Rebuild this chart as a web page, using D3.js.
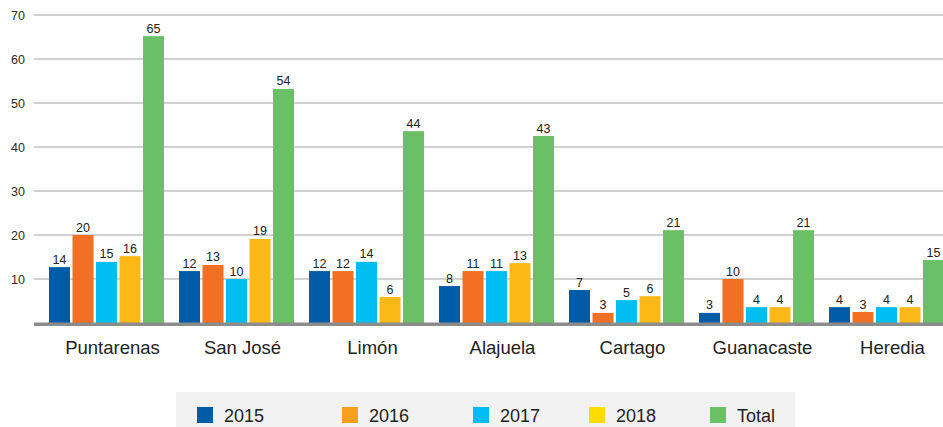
<!DOCTYPE html>
<html>
<head>
<meta charset="utf-8">
<script src="https://cdn.jsdelivr.net/npm/d3@7"></script>
<style>
  html, body { margin: 0; padding: 0; background: #ffffff; }
  svg { display: block; font-family: "Liberation Sans", Arial, sans-serif; }
</style>
</head>
<body>
<div id="chart"></div>
<script>
// ---- data ----
const categories = ["Puntarenas", "San José", "Limón", "Alajuela", "Cartago", "Guanacaste", "Heredia"];
const seriesNames = ["2015", "2016", "2017", "2018", "Total"];
// bar heights as drawn in the picture
const values2015 = [12.7, 11.8, 11.8, 8.4, 7.5, 2.3, 3.6];
const values2016 = [20.0, 13.2, 11.8, 11.8, 2.3, 10.0, 2.5];
const values2017 = [13.9, 10.0, 13.9, 11.8, 5.2, 3.6, 3.6];
const values2018 = [15.2, 19.1, 5.9, 13.6, 6.1, 3.6, 3.6];
const valuesTotal = [65.2, 53.2, 43.6, 42.5, 21.1, 21.1, 14.3];
// data labels printed above the bars
const labels2015 = [14, 12, 12, 8, 7, 3, 4];
const labels2016 = [20, 13, 12, 11, 3, 10, 3];
const labels2017 = [15, 10, 14, 11, 5, 4, 4];
const labels2018 = [16, 19, 6, 13, 6, 4, 4];
const labelsTotal = [65, 54, 44, 43, 21, 21, 15];
const yTicks = [10, 20, 30, 40, 50, 60, 70];

const barColors = ["#005CA7", "#F17023", "#00BEF2", "#FBB817", "#6BBF66"];
const legendColors = ["#005CA7", "#F8A01D", "#00BEF2", "#FFDC00", "#6BBF66"];

const seriesValues = [values2015, values2016, values2017, values2018, valuesTotal];
const seriesLabels = [labels2015, labels2016, labels2017, labels2018, labelsTotal];

// ---- layout ----
const W = 943, H = 427;
const svg = d3.select("#chart").append("svg").attr("width", W).attr("height", H);

const y = d3.scaleLinear().domain([0, 70]).range([323, 15]);
const x0 = d3.scaleBand().domain(categories).range([41.5, 951.5])
  .paddingInner(15 / 130).paddingOuter(7.5 / 130);
const x1 = d3.scaleBand().domain(seriesNames).range([0, x0.bandwidth()])
  .paddingInner(2.5 / 23.5).paddingOuter(0);

// gridlines
svg.append("g").selectAll("line").data(yTicks).join("line")
  .attr("x1", 34).attr("x2", W)
  .attr("y1", d => y(d)).attr("y2", d => y(d))
  .attr("stroke", "#c2c2c2").attr("stroke-width", 1.5);

// y axis labels
const yAxis = svg.append("g").attr("transform", "translate(34,0)")
  .call(d3.axisLeft(y).tickValues(yTicks).tickSize(0).tickPadding(9));
yAxis.select(".domain").remove();
yAxis.selectAll("text").attr("font-size", 12.5).attr("fill", "#2a2a2a")
  .attr("font-family", "'Liberation Sans', Arial, sans-serif");

// bars
const rows = [];
categories.forEach((c, i) => {
  seriesNames.forEach((s, j) => {
    rows.push({ cat: c, s: s, j: j, v: seriesValues[j][i], lab: seriesLabels[j][i] });
  });
});

svg.append("g").selectAll("rect").data(rows).join("rect")
  .attr("x", d => x0(d.cat) + x1(d.s))
  .attr("width", x1.bandwidth())
  .attr("y", d => y(d.v))
  .attr("height", d => y(0) - y(d.v))
  .attr("fill", d => barColors[d.j]);

// baseline
svg.append("rect").attr("x", 34).attr("width", W - 34)
  .attr("y", y(0) - 0.5).attr("height", 3.5).attr("fill", "#8c8c8c");

// data labels
svg.append("g").selectAll("text").data(rows).join("text")
  .attr("x", d => x0(d.cat) + x1(d.s) + x1.bandwidth() / 2)
  .attr("y", d => y(d.v) - 3.5)
  .attr("text-anchor", "middle")
  .attr("font-size", 12.5).attr("fill", "#222")
  .text(d => d.lab);

// category labels
svg.append("g").selectAll("text").data(categories).join("text")
  .attr("x", d => x0(d) + x0.bandwidth() / 2 + 6)
  .attr("y", 354)
  .attr("text-anchor", "middle")
  .attr("font-size", 18.5).attr("fill", "#222")
  .text(d => d);

// legend
svg.append("rect").attr("x", 176).attr("y", 392).attr("width", 619).attr("height", 40)
  .attr("fill", "#f2f2f2");
const legendX = [197, 342, 473, 589, 710];
const lg = svg.append("g").selectAll("g").data(seriesNames).join("g")
  .attr("transform", (d, i) => `translate(${legendX[i]},0)`);
lg.append("rect").attr("x", 0).attr("y", 407).attr("width", 16).attr("height", 16)
  .attr("fill", (d, i) => legendColors[i]);
lg.append("text").attr("x", 27).attr("y", 422)
  .attr("font-size", 18).attr("fill", "#222")
  .text(d => d);
</script>
</body>
</html>
